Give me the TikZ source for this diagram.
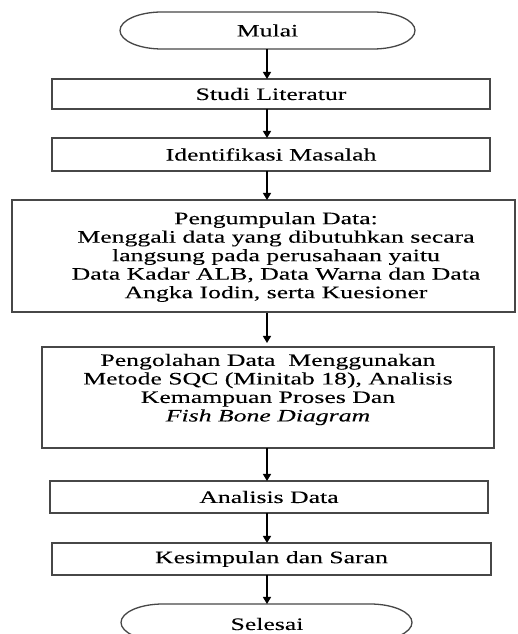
\documentclass[tikz,border=0pt]{standalone}
\usepackage{fontspec}
\setmainfont[FakeStretch=1.47,FakeBold=0.1]{Liberation Serif}
\usetikzlibrary{arrows.meta}
\begin{document}
\begin{tikzpicture}[x=1pt,y=1pt,
  boxline/.style={draw=black!72,line width=1.3pt},
  procbox/.style={boxline,rectangle,inner sep=0pt,outer sep=0pt},
  txt/.style={font=\fontsize{17.5}{18.5}\selectfont,align=center,inner sep=0pt},
  termnode/.style={rectangle,inner sep=0pt,outer sep=0pt,minimum height=37pt,font=\fontsize{17.5}{18.5}\selectfont},
  arr/.style={draw=black,line width=1.3pt,-{Triangle[length=7pt,width=8pt]}}
]
\useasboundingbox (0,0) rectangle (518,634);
\clip (0,0) rectangle (518,634);
\fill[white] (0,0) rectangle (518,634);

% terminators
\node[termnode,minimum width=295pt] (mulai) at (267.5,603.5) {Mulai};
\draw[boxline] ([xshift=42pt]mulai.north west) -- ([xshift=-42pt]mulai.north east)
  arc[start angle=90,end angle=-90,x radius=42pt,y radius=18.5pt]
  -- ([xshift=42pt]mulai.south west)
  arc[start angle=270,end angle=90,x radius=42pt,y radius=18.5pt] -- cycle;

\node[termnode,minimum width=291pt] (selesai) at (266.5,11.5) {};
\node[txt] (selesaitxt) at (267,10) {Selesai};
\draw[boxline] ([xshift=42pt]selesai.north west) -- ([xshift=-42pt]selesai.north east)
  arc[start angle=90,end angle=-90,x radius=42pt,y radius=18.5pt]
  -- ([xshift=42pt]selesai.south west)
  arc[start angle=270,end angle=90,x radius=42pt,y radius=18.5pt] -- cycle;

% process boxes
\node[procbox,txt,minimum width=438pt,minimum height=30pt] (studi) at (271,540) {Studi Literatur};
\node[procbox,txt,minimum width=438pt,minimum height=33pt] (ident) at (271,479.5) {Identifikasi Masalah};
\node[procbox,minimum width=503pt,minimum height=112pt] (kumpul) at (263.5,378) {};
\node[txt] (kumpultxt) at (276,377) {Pengumpulan Data:\\Menggali data yang dibutuhkan secara\\langsung pada perusahaan yaitu\\Data Kadar ALB, Data Warna dan Data\\Angka Iodin, serta Kuesioner};
\node[procbox,minimum width=452pt,minimum height=101pt] (olah) at (268,236.5) {};
\node[txt] (olahtxt) at (268,244.5) {Pengolahan Data~ Menggunakan\\Metode SQC (Minitab 18), Analisis\\Kemampuan Proses Dan\\\textit{Fish Bone Diagram}};
\node[procbox,txt,minimum width=438pt,minimum height=32pt] (analisis) at (269,137) {Analisis Data};
\node[procbox,txt,minimum width=439pt,minimum height=32pt] (simpul) at (271.5,75) {Kesimpulan dan Saran};

% connectors
\coordinate (axis) at (267,0);
\draw[arr] (mulai.south -| axis) -- (studi.north -| axis);
\draw[arr] (studi.south -| axis) -- (ident.north -| axis);
\draw[arr] (ident.south -| axis) -- (kumpul.north -| axis);
\draw[arr] ([yshift=-1pt]kumpul.south -| axis) -- ([yshift=4pt]olah.north -| axis);
\draw[arr] (olah.south -| axis) -- (analisis.north -| axis);
\draw[arr] (analisis.south -| axis) -- (simpul.north -| axis);
\draw[arr] (simpul.south -| axis) -- (selesai.north -| axis);
\end{tikzpicture}
\end{document}
